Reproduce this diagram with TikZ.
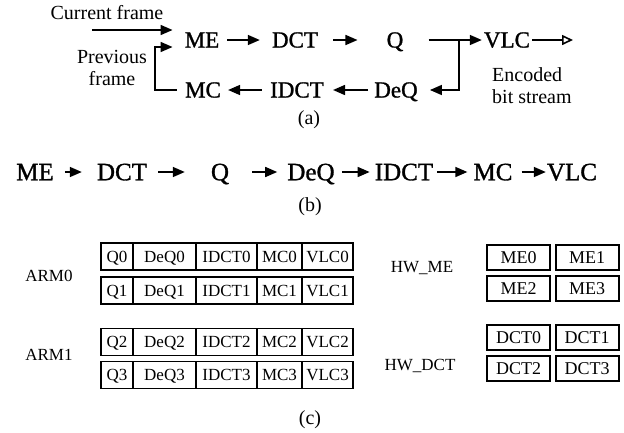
\documentclass[tikz,border=0pt]{standalone}
\usepackage{fontspec}
\setmainfont{Liberation Serif}
\newfontfamily\timesfont{Liberation Serif}
\newfontfamily\heavyfont{Liberation Serif}[FakeBold=1.2]
\usetikzlibrary{arrows.meta}
\begin{document}
\begin{tikzpicture}[x=1pt,y=-1pt,
  lbl/.style={inner sep=0pt, text height=15pt, text depth=0pt, font=\heavyfont\fontsize{23}{27}\selectfont},
  blk/.style={inner sep=0pt, text height=16.5pt, text depth=0pt, font=\heavyfont\fontsize{25}{29}\selectfont},
  txt/.style={inner sep=0pt, font=\timesfont\fontsize{20}{22}\selectfont},
  flow/.style={line width=1.6pt, -{Triangle[length=12pt,width=10pt]}},
  cell/.style={draw, line width=1.7pt, inner sep=0pt, outer sep=0pt, minimum height=27pt,
    text height=11.5pt, text depth=0pt, font=\timesfont\fontsize{17}{19}\selectfont},
  hw/.style={draw, line width=2pt, inner sep=0pt, outer sep=0pt, minimum height=25pt,
    minimum width=63pt, text height=12pt, text depth=0pt, font=\timesfont\fontsize{18}{20}\selectfont},
  tag/.style={inner sep=0pt, font=\timesfont\fontsize{17}{19}\selectfont},
  sublabel/.style={inner sep=0pt, font=\timesfont\fontsize{20}{22}\selectfont}]
\useasboundingbox (0,0) rectangle (624,432);

% ---------- (a) encoder loop ----------
\node[lbl] (ME)   at (202,40) {ME};
\node[lbl] (DCT)  at (295,40) {DCT};
\node[lbl] (Q)    at (395,40) {Q};
\node[lbl] (VLC)  at (507,40) {VLC};
\node[lbl] (MC)   at (203,90) {MC};
\node[lbl] (IDCT) at (297,90) {IDCT};
\node[lbl] (DeQ)  at (396,90) {DeQ};

\node[txt] (cur) at (107,13) {Current frame};
\node[txt, align=center] (prev) at (112,68) {Previous\\frame};
\node[txt, align=left, anchor=west] (enc) at (492,86) {Encoded\\bit stream};

\coordinate (cfin)  at (92,30);
\coordinate (split) at (459,40);
\coordinate (fb)    at (155,90);
\coordinate (bits)  at (573,40);

\draw[flow] (cfin) -- ([xshift=-12pt,yshift=10pt]ME.west);
\draw[flow] ([xshift=8pt]ME.east) -- ([xshift=-12pt]DCT.west);
\draw[flow] ([xshift=15pt]DCT.east) -- ([xshift=-29pt]Q.west);
\draw[flow] ([xshift=25pt]Q.east) -- ([xshift=-2pt]VLC.west);
\draw[flow] (split) |- ([xshift=12pt]DeQ.east);
\draw[flow] ([xshift=-6pt]DeQ.west) -- ([xshift=9pt]IDCT.east);
\draw[flow] ([xshift=-8pt]IDCT.west) -- ([xshift=7pt]MC.east);
\draw[flow] ([xshift=-8pt]MC.west) -- (fb) |- ([xshift=-12pt,yshift=-7pt]ME.west);
\draw[line width=1.6pt, -{Triangle[open,length=11pt,width=10pt]}] ([xshift=2pt]VLC.east) -- (bits);

\node[sublabel] (la) at (309,120) {(a)};

% ---------- (b) sequential pipeline ----------
\node[blk] (bME)   at (35,172)  {ME};
\node[blk] (bDCT)  at (122,172) {DCT};
\node[blk] (bQ)    at (220,172) {Q};
\node[blk] (bDeQ)  at (311,172) {DeQ};
\node[blk] (bIDCT) at (404,172) {IDCT};
\node[blk] (bMC)   at (493,172) {MC};
\node[blk] (bVLC)  at (572,172) {VLC};

\draw[flow] ([xshift=11pt]bME.east)  -- ([xshift=-15pt]bDCT.west);
\draw[flow] ([xshift=11pt]bDCT.east) -- ([xshift=-26pt]bQ.west);
\draw[flow] ([xshift=23pt]bQ.east)   -- ([xshift=-10pt]bDeQ.west);
\draw[flow] ([xshift=7pt]bDeQ.east)  -- ([xshift=-5pt]bIDCT.west);
\draw[flow] ([xshift=4pt]bIDCT.east) -- ([xshift=-6pt]bMC.west);
\draw[flow] ([xshift=9pt]bMC.east)   -- ([xshift=-1pt]bVLC.west);

\node[sublabel] (lb) at (310,207) {(b)};

% ---------- (c) task mapping ----------
\foreach \r/\y in {0/256.5,1/290.5,2/342,3/375}{
  \node[cell, minimum width=32pt] (q\r)    at (117,\y)   {Q\r};
  \node[cell, minimum width=63pt] (deq\r)  at (164.5,\y) {DeQ\r};
  \node[cell, minimum width=61pt] (idct\r) at (226.5,\y) {IDCT\r};
  \node[cell, minimum width=45pt] (mc\r)   at (279.5,\y) {MC\r};
  \node[cell, minimum width=51pt] (vlc\r)  at (327.5,\y) {VLC\r};
}

\node[hw] (me0)  at (518.5,257) {ME0};
\node[hw] (me1)  at (587,257)   {ME1};
\node[hw] (me2)  at (518.5,288) {ME2};
\node[hw] (me3)  at (587,288)   {ME3};
\node[hw] (dct0) at (518.5,337) {DCT0};
\node[hw] (dct1) at (587,337)   {DCT1};
\node[hw] (dct2) at (518.5,368) {DCT2};
\node[hw] (dct3) at (587,368)   {DCT3};

\node[tag] (arm0) at (49,276)  {ARM0};
\node[tag] (arm1) at (49,355)  {ARM1};
\node[tag] (hwme)  at (422,268) {HW\_ME};
\node[tag] (hwdct) at (420,366) {HW\_DCT};

\node[sublabel] (lc) at (310,420) {(c)};
\end{tikzpicture}
\end{document}
